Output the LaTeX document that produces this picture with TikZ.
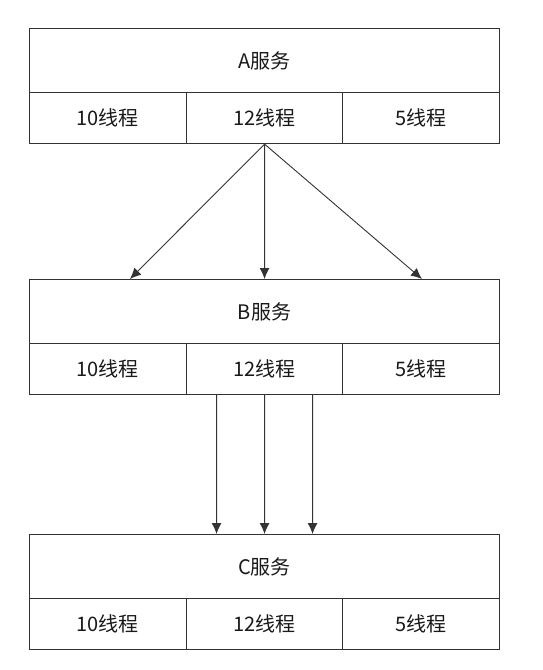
\documentclass[tikz,border=0pt]{standalone}
\usepackage{fontspec}
\setmainfont{Noto Sans CJK SC}
\usetikzlibrary{arrows.meta}

\tikzset{
  svc/.style={draw=black!80, line width=1.1pt, minimum width=470pt, minimum height=64pt,
    inner sep=0pt, anchor=north west, text=black!90},
  cell/.style={draw=black!80, line width=1.1pt, minimum width=156.67pt, minimum height=51pt,
    inner sep=0pt, anchor=north west, text=black!90},
  link/.style={-{Latex[length=11pt,width=10pt]}, draw=black!80, line width=0.9pt}
}

\begin{document}
\begin{tikzpicture}[x=1pt, y=-1pt, font=\fontsize{20}{24}\selectfont]
    \useasboundingbox (0,0) rectangle (542,670);

    % A服务
    \node[svc] (A) at (29,28) {A服务};
    \foreach \n/\i in {10/0,12/1,5/2}
        \node[cell] (A\n) at ({29+\i*156.67},92) {\n{}线程};

    % B服务
    \node[svc] (B) at (29,279) {B服务};
    \foreach \n/\i in {10/0,12/1,5/2}
        \node[cell] (B\n) at ({29+\i*156.67},343) {\n{}线程};

    % C服务
    \node[svc] (C) at (29,534) {C服务};
    \foreach \n/\i in {10/0,12/1,5/2}
        \node[cell] (C\n) at ({29+\i*156.67},598) {\n{}线程};

    \coordinate (bl) at (130,279);
    \coordinate (br) at (422,279);

    \draw[link] (A12.south) -- (bl);
    \draw[link] (A12.south) -- (B.north);
    \draw[link] (A12.south) -- (br);

    \draw[link] ([xshift=-48pt]B12.south) -- ([xshift=-48pt]C.north);
    \draw[link] (B12.south) -- (C.north);
    \draw[link] ([xshift=48pt]B12.south) -- ([xshift=48pt]C.north);
\end{tikzpicture}
\end{document}
